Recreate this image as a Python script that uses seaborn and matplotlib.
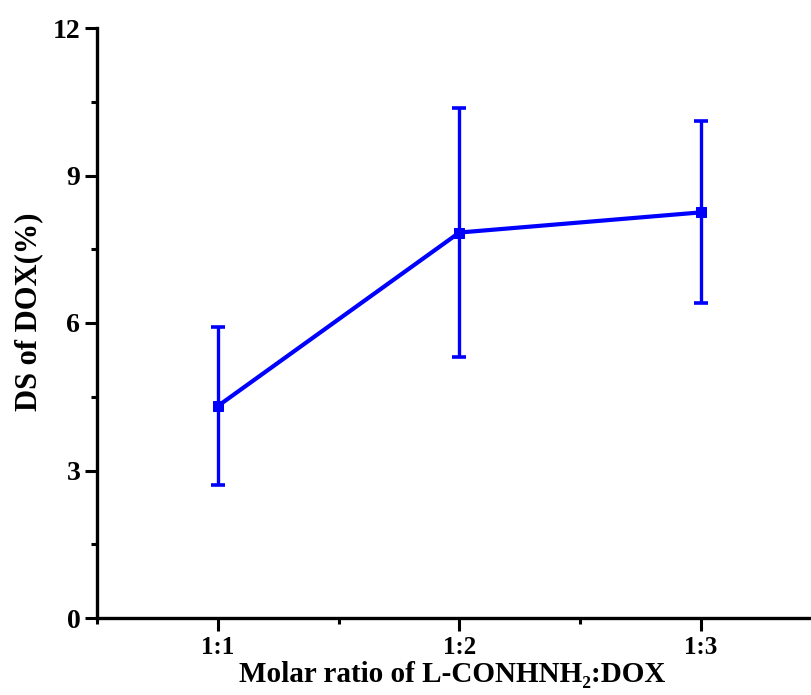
import matplotlib
matplotlib.use("Agg")
import matplotlib.pyplot as plt
import seaborn as sns
import pandas as pd
import numpy as np
from matplotlib.ticker import MultipleLocator

categories = ["1:1", "1:2", "1:3"]
x_pos = [1, 2, 3]
ds_mean = [4.31, 7.84, 8.25]
ds_err = [1.60, 2.53, 1.85]
y_ticks = [0, 3, 6, 9, 12]

df = pd.DataFrame({"x": x_pos, "y": ds_mean, "err": ds_err, "label": categories})

sns.set_style("ticks", {"axes.edgecolor": "black", "text.color": "black",
                        "xtick.color": "black", "ytick.color": "black",
                        "axes.labelcolor": "black"})
plt.rcParams["font.family"] = ["Liberation Serif", "DejaVu Serif"]
plt.rcParams["font.weight"] = "bold"
plt.rcParams["mathtext.fontset"] = "custom"
plt.rcParams["mathtext.bf"] = "Liberation Serif:bold"
plt.rcParams["mathtext.rm"] = "Liberation Serif:bold"

fig = plt.figure(figsize=(8.12, 6.95), dpi=100)
ax = fig.add_axes([97/812, 1-618/695, 1-97/812, (618-28)/695])

blue = "#0000ff"
ax.errorbar(df["x"], df["y"], yerr=df["err"], fmt="none", ecolor=blue,
            elinewidth=2.4, capsize=5, capthick=2.6, zorder=2)
sns.lineplot(data=df, x="x", y="y", ax=ax, color=blue, linewidth=3,
             marker="s", markersize=7, markeredgecolor=blue, zorder=3)

ax.set_xlim(0.5, 3.46)
ax.set_ylim(0, 12)
ax.set_xticks(x_pos)
ax.set_xticklabels(categories, fontsize=18, fontweight="bold")
ax.xaxis.set_minor_locator(MultipleLocator(0.5))
ax.set_yticks(y_ticks)
ax.set_yticklabels([str(t) for t in y_ticks], fontsize=20, fontweight="bold")
ax.yaxis.set_minor_locator(MultipleLocator(1.5))

ax.tick_params(axis="both", which="major", length=9, width=2.2, direction="out")
ax.tick_params(axis="x", which="major", pad=4)
ax.tick_params(axis="y", which="major", pad=3)
ax.tick_params(axis="both", which="minor", length=4.5, width=2.2, direction="out")

for s in ["top", "right"]:
    ax.spines[s].set_visible(False)
for s in ["left", "bottom"]:
    ax.spines[s].set_linewidth(2.4)

ax.set_xlabel("Molar ratio of L-CONHNH\u2082:DOX", fontsize=21, fontweight="bold")
ax.set_ylabel("DS of DOX(%)", fontsize=22, fontweight="bold")
ax.xaxis.set_label_coords(0.4965, -0.073)
ax.yaxis.set_label_coords(-0.0755, 0.519)

fig.savefig("out.png", dpi=100)
